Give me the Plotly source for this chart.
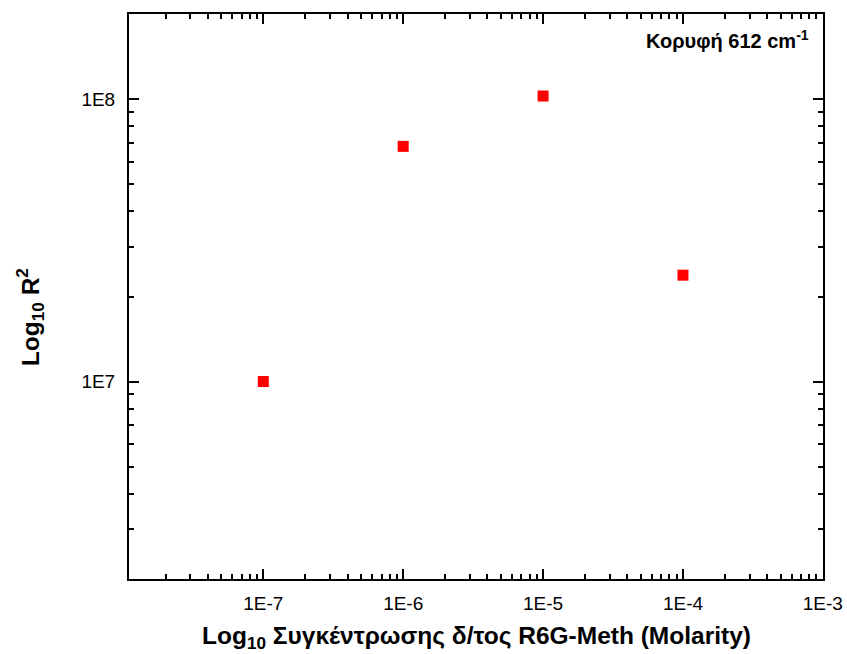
import plotly.graph_objects as go
import numpy as np

# Concentration (M) and enhancement factor R^2 for the 612 cm-1 peak
concentration = [1e-7, 1e-6, 1e-5, 1e-4]
r_squared = [1.0e7, 6.8e7, 1.025e8, 2.38e7]

x_tickvals = [1e-7, 1e-6, 1e-5, 1e-4, 1e-3]
x_ticktext = ["1E-7", "1E-6", "1E-5", "1E-4", "1E-3"]
y_tickvals = [1e7, 1e8]
y_ticktext = ["1E7", "1E8"]

x_range = [-7.96, -2.999]
y_range = [np.log10(2e6), np.log10(2e8)]

FONT = "Liberation Sans, Arial, sans-serif"

fig = go.Figure()
fig.add_trace(go.Scatter(
    x=concentration, y=r_squared, mode="markers",
    marker=dict(symbol="square", size=11, color="#ff0000", line=dict(width=0)),
    showlegend=False,
))

axis_common = dict(
    showline=True, linecolor="black", linewidth=2, mirror="allticks",
    ticks="inside", ticklen=10, tickwidth=2, tickcolor="black",
    showgrid=False, zeroline=False, automargin=False,
    tickfont=dict(family=FONT, size=19, color="black"),
    minor=dict(ticks="inside", ticklen=5, tickwidth=2, tickcolor="black",
               dtick="D1", showgrid=False),
)

fig.update_xaxes(type="log", range=x_range, tickvals=x_tickvals,
                 ticktext=x_ticktext, ticklabelstandoff=6, **axis_common)
fig.update_yaxes(type="log", range=y_range, tickvals=y_tickvals,
                 ticktext=y_ticktext, ticklabelstandoff=8, **axis_common)

fig.add_annotation(
    text="<b>Log<sub>10</sub> Συγκέντρωσης δ/τος R6G-Meth (Molarity)</b>",
    xref="paper", yref="paper", x=0.5, y=-0.104, yanchor="middle",
    showarrow=False, font=dict(family=FONT, size=24.5, color="black"),
)
fig.add_annotation(
    text="<b>Log<sub>10</sub> R<sup>2</sup></b>",
    xref="paper", yref="paper", x=-0.143, y=0.463, textangle=-90,
    xanchor="center", yanchor="middle",
    showarrow=False, font=dict(family=FONT, size=24.5, color="black"),
)
fig.add_annotation(
    text="<b>Κορυφή 612 cm<sup>-1</sup></b>",
    xref="paper", yref="paper", x=0.983, y=0.954,
    xanchor="right", yanchor="middle",
    showarrow=False, font=dict(family=FONT, size=20, color="black"),
)

fig.update_layout(
    width=847, height=654,
    margin=dict(l=129, r=24, t=14, b=75),
    paper_bgcolor="white", plot_bgcolor="white",
    font=dict(family=FONT, color="black"),
)

fig.write_html("out.html")
